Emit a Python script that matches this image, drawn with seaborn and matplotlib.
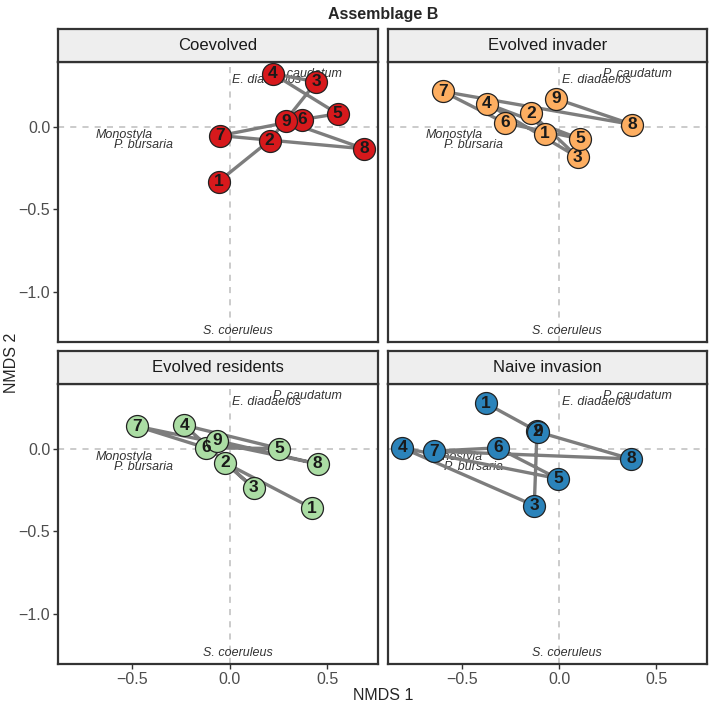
import numpy as np
import pandas as pd
import seaborn as sns
import matplotlib.pyplot as plt

# NMDS site scores per treatment, points numbered 1..9 and joined in that order
labels = [1, 2, 3, 4, 5, 6, 7, 8, 9]

coevolved_x = [-0.057, 0.204, 0.444, 0.22, 0.553, 0.37, -0.049, 0.69, 0.288]
coevolved_y = [-0.333, -0.085, 0.27, 0.32, 0.077, 0.042, -0.055, -0.135, 0.032]

invader_x = [-0.072, -0.145, 0.096, -0.371, 0.108, -0.28, -0.598, 0.376, -0.017]
invader_y = [-0.044, 0.081, -0.186, 0.138, -0.075, 0.022, 0.212, 0.012, 0.168]

residents_x = [0.421, -0.023, 0.122, -0.233, 0.254, -0.122, -0.476, 0.45, -0.066]
residents_y = [-0.36, -0.087, -0.238, 0.141, 0.0, 0.004, 0.135, -0.093, 0.048]

naive_x = [-0.376, -0.114, -0.128, -0.807, -0.007, -0.316, -0.645, 0.369, -0.108]
naive_y = [0.273, 0.105, -0.345, 0.004, -0.182, 0.004, -0.016, -0.063, 0.100]

treatments = ['Coevolved', 'Evolved invader', 'Evolved residents', 'Naive invasion']
colours = ['#D7191C', '#FDAE61', '#ABDDA4', '#2B83BA']

# species scores
species = ['E. diadaelos', 'P. caudatum', 'Monostyla', 'P. bursaria', 'S. coeruleus']
sp_x = [0.19, 0.40, -0.54, -0.44, 0.04]
sp_y = [0.28, 0.315, -0.052, -0.111, -1.236]

sns.set_style('white')
plt.rcParams['font.family'] = ['Liberation Sans', 'DejaVu Sans']

sites = pd.DataFrame({
    'treatment': np.repeat(treatments, 9),
    'num': labels * 4,
    'x': coevolved_x + invader_x + residents_x + naive_x,
    'y': coevolved_y + invader_y + residents_y + naive_y,
})

fig = plt.figure(figsize=(7.09, 7.05), dpi=100)

W, H = 709.0, 705.0
col_left = [58, 388]
col_w = [320, 319]
row_top = [62, 384]
row_h = 280
strip_h = 33

for i, treat in enumerate(treatments):
    r, c = i // 2, i % 2
    ax = fig.add_axes([col_left[c] / W, 1 - (row_top[r] + row_h) / H, col_w[c] / W, row_h / H])
    d = sites[sites['treatment'] == treat]

    ax.axhline(0, color='#BDBDBD', lw=1.1, ls=(0, (4, 4)), zorder=0)
    ax.axvline(0, color='#BDBDBD', lw=1.1, ls=(0, (4, 4)), zorder=0)

    for s, sx, sy in zip(species, sp_x, sp_y):
        ax.text(sx, sy, s, style='italic', fontsize=9, color='#333333',
                ha='center', va='center', zorder=1)

    sns.lineplot(data=d, x='x', y='y', sort=False, estimator=None,
                 color='#7D7D7D', lw=2.4, ax=ax, zorder=2)
    sns.scatterplot(data=d, x='x', y='y', color=colours[i], s=250,
                    edgecolor='#222222', linewidth=0.9, ax=ax, zorder=3)
    for _, row in d.iterrows():
        ax.text(row['x'], row['y'], str(row['num']), fontsize=12.5, fontweight='bold',
                color='#1A1A1A', ha='center', va='center', zorder=4)

    ax.set_xlim(-0.88, 0.76)
    ax.set_ylim(-1.303, 0.39)
    ax.set_xticks([-0.5, 0.0, 0.5])
    ax.set_yticks([-1.0, -0.5, 0.0])
    ax.set_xlabel('')
    ax.set_ylabel('')
    ax.tick_params(axis='both', length=3.5, width=1, color='#333333',
                   labelsize=11.5, labelcolor='#4D4D4D', pad=2)
    ax.tick_params(bottom=(r == 1), left=(c == 0),
                   labelbottom=(r == 1), labelleft=(c == 0))
    ax.set_xticklabels(['\u22120.5', '0.0', '0.5'])
    ax.set_yticklabels(['\u22121.0', '\u22120.5', '0.0'])
    for sp in ax.spines.values():
        sp.set_color('#333333')
        sp.set_linewidth(1.6)

    # facet strip
    sax = fig.add_axes([col_left[c] / W, 1 - row_top[r] / H, col_w[c] / W, strip_h / H])
    sax.set_facecolor('#EEEEEE')
    sax.set_xticks([])
    sax.set_yticks([])
    for sp in sax.spines.values():
        sp.set_color('#333333')
        sp.set_linewidth(1.6)
    sax.text(0.5, 0.5, treat, fontsize=12, color='#1A1A1A', ha='center', va='center',
             transform=sax.transAxes)

fig.text(383 / W, 1 - 14 / H, 'Assemblage B', fontsize=11.5, fontweight='bold',
         ha='center', va='center')
fig.text(383 / W, 1 - 695 / H, 'NMDS 1', fontsize=11.5, ha='center', va='center')
fig.text(12 / W, 1 - 363 / H, 'NMDS 2', fontsize=11.5, ha='center', va='center', rotation=90)

plt.savefig('out.png', dpi=100)
plt.close()
